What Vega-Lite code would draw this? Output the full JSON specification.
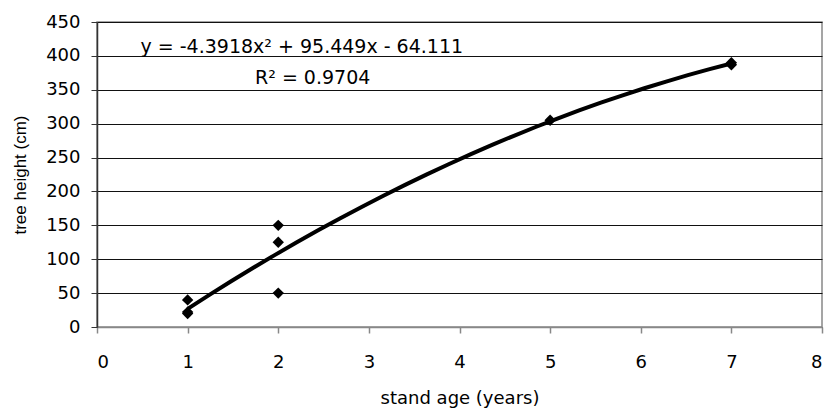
{
  "$schema": "https://vega.github.io/schema/vega-lite/v6.json",
  "autosize": {"type": "none"},
  "width": 725,
  "height": 305,
  "padding": {"left": 97, "top": 22, "right": 8, "bottom": 82},
  "background": "white",
  "config": {
    "font": "DejaVu Sans",
    "view": {"stroke": "#888888", "strokeWidth": 1.5},
    "axis": {"labelFont": "DejaVu Sans", "titleFont": "DejaVu Sans", "labelColor": "black", "titleColor": "black", "titleFontWeight": "normal"}
  },
  "datasets": {
    "pts": [
      {"age": 1, "height": 20},
      {"age": 1, "height": 22},
      {"age": 1, "height": 40},
      {"age": 2, "height": 50},
      {"age": 2, "height": 125},
      {"age": 2, "height": 150},
      {"age": 5, "height": 305},
      {"age": 7, "height": 387},
      {"age": 7, "height": 390}
    ],
    "labels": [
      {"age": 2.26, "height": 413, "txt": "y = -4.3918x² + 95.449x - 64.111"},
      {"age": 2.38, "height": 367, "txt": "R² = 0.9704"}
    ]
  },
  "encoding": {
    "x": {
      "field": "age", "type": "quantitative",
      "scale": {"domain": [0, 8], "nice": false},
      "axis": {"title": "stand age (years)", "values": [0,1,2,3,4,5,6,7,8], "format": "d", "grid": false, "domain": true, "domainColor": "#888888", "domainWidth": 1.5, "tickColor": "#888888", "tickWidth": 1.5, "tickSize": 6, "labelFontSize": 18, "labelPadding": 20, "titleFontSize": 18, "titlePadding": 18}
    },
    "y": {
      "field": "height", "type": "quantitative",
      "scale": {"domain": [0, 450], "nice": false},
      "axis": {"title": "tree height (cm)", "titleFont": "Liberation Sans", "values": [0,50,100,150,200,250,300,350,400,450], "format": "d", "grid": true, "gridColor": "#111111", "gridWidth": 1, "domainColor": "#333333", "domainWidth": 1.5, "tickColor": "#333333", "tickSize": 6, "labelFontSize": 18, "labelPadding": 11, "titleFontSize": 17, "titlePadding": 16}
    }
  },
  "layer": [
    {
      "data": {"name": "pts"},
      "transform": [{"regression": "height", "on": "age", "method": "poly", "order": 2}],
      "mark": {"type": "line", "color": "black", "strokeWidth": 4}
    },
    {
      "data": {"name": "pts"},
      "mark": {"type": "point", "shape": "diamond", "filled": true, "color": "black", "opacity": 1, "size": 130}
    },
    {
      "data": {"name": "labels"},
      "mark": {"type": "text", "fontSize": 19, "color": "black", "align": "center", "baseline": "middle"},
      "encoding": {
        "text": {"field": "txt"}
      }
    }
  ]
}
